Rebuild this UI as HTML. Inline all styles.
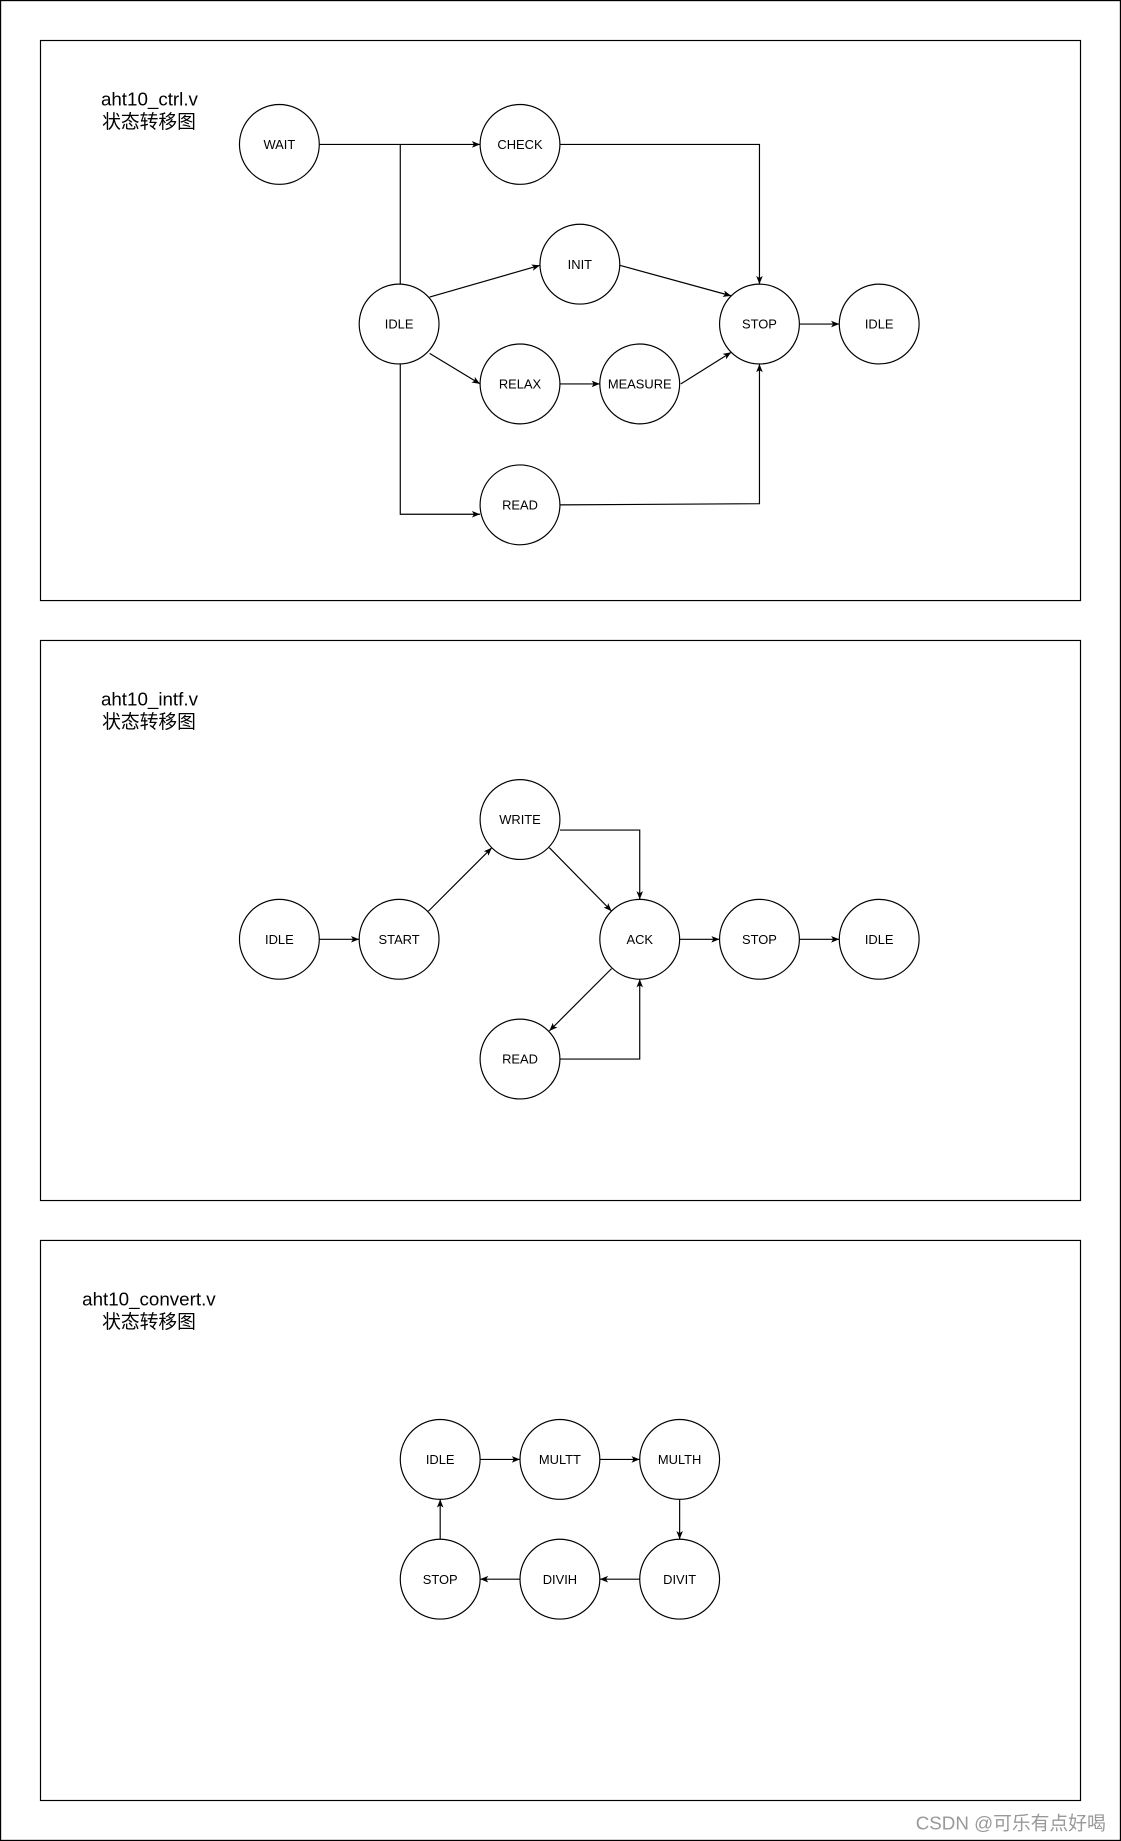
<!DOCTYPE html>
<html><head><meta charset="utf-8"><style>
html,body{margin:0;padding:0;background:#fff;}
svg{display:block;}
text{font-family:"Liberation Sans","Noto Sans CJK SC",sans-serif;}
</style></head><body>
<svg width="1121" height="1841" viewBox="0 0 955 1568" preserveAspectRatio="none" xmlns="http://www.w3.org/2000/svg">
<defs><marker id="a" viewBox="0 0 10 10" refX="10" refY="5" markerWidth="7" markerHeight="7" orient="auto"><path d="M0,1 L10,5 L0,9 L2.5,5 z" fill="#000"/></marker></defs>
<rect x="0.5" y="0.5" width="954" height="1567" fill="#fff" stroke="#000"/>
<g fill="none" stroke="#000" stroke-width="1">
<rect x="34.5" y="34.5" width="886" height="477"/>
<rect x="34.5" y="545.5" width="886" height="477"/>
<rect x="34.5" y="1056.5" width="886" height="477"/>
</g>
<g font-size="16" fill="#000">
<text x="86" y="90">aht10_ctrl.v</text><text x="87" y="109">状态转移图</text>
<text x="86" y="601">aht10_intf.v</text><text x="87" y="620">状态转移图</text>
<text x="70" y="1112">aht10_convert.v</text><text x="87" y="1131">状态转移图</text>
</g>
<g fill="none" stroke="#000" stroke-width="1">
<!-- panel1 edges -->
<path d="M272,123 H409" marker-end="url(#a)"/>
<path d="M341,242 V123"/>
<path d="M477,123 H647 V242" marker-end="url(#a)"/>
<path d="M366,253 L460,226" marker-end="url(#a)"/>
<path d="M528,226 L623,252" marker-end="url(#a)"/>
<path d="M366,301 L409,327" marker-end="url(#a)"/>
<path d="M477,327 H511" marker-end="url(#a)"/>
<path d="M580,327 L623,300" marker-end="url(#a)"/>
<path d="M681,276 H715" marker-end="url(#a)"/>
<path d="M341,310 V438 H409" marker-end="url(#a)"/>
<path d="M477,430 L647,429 V310" marker-end="url(#a)"/>
<!-- panel2 -->
<path d="M272,800 H306" marker-end="url(#a)"/>
<path d="M365,776 L419,722" marker-end="url(#a)"/>
<path d="M468,722 L521,776" marker-end="url(#a)"/>
<path d="M477,707 H545 V766" marker-end="url(#a)"/>
<path d="M579,800 H613" marker-end="url(#a)"/>
<path d="M681,800 H715" marker-end="url(#a)"/>
<path d="M521,825 L468,878" marker-end="url(#a)"/>
<path d="M477,902 H545 V834" marker-end="url(#a)"/>
<!-- panel3 -->
<path d="M409,1243 H443" marker-end="url(#a)"/>
<path d="M511,1243 H545" marker-end="url(#a)"/>
<path d="M579,1277 V1311" marker-end="url(#a)"/>
<path d="M545,1345 H511" marker-end="url(#a)"/>
<path d="M443,1345 H409" marker-end="url(#a)"/>
<path d="M375,1311 V1277" marker-end="url(#a)"/>
</g>
<g fill="#fff" stroke="#000" stroke-width="1">
<circle cx="238" cy="123" r="34"/><circle cx="443" cy="123" r="34"/><circle cx="494" cy="225" r="34"/>
<circle cx="340" cy="276" r="34"/><circle cx="647" cy="276" r="34"/><circle cx="749" cy="276" r="34"/>
<circle cx="443" cy="327" r="34"/><circle cx="545" cy="327" r="34"/><circle cx="443" cy="430" r="34"/>
<circle cx="238" cy="800" r="34"/><circle cx="340" cy="800" r="34"/><circle cx="443" cy="698" r="34"/>
<circle cx="545" cy="800" r="34"/><circle cx="647" cy="800" r="34"/><circle cx="749" cy="800" r="34"/>
<circle cx="443" cy="902" r="34"/>
<circle cx="375" cy="1243" r="34"/><circle cx="477" cy="1243" r="34"/><circle cx="579" cy="1243" r="34"/>
<circle cx="579" cy="1345" r="34"/><circle cx="477" cy="1345" r="34"/><circle cx="375" cy="1345" r="34"/>
</g>
<g font-size="11" fill="#000" text-anchor="middle">
<text x="238" y="127">WAIT</text><text x="443" y="127">CHECK</text><text x="494" y="229">INIT</text>
<text x="340" y="280">IDLE</text><text x="647" y="280">STOP</text><text x="749" y="280">IDLE</text>
<text x="443" y="331">RELAX</text><text x="545" y="331">MEASURE</text><text x="443" y="434">READ</text>
<text x="238" y="804">IDLE</text><text x="340" y="804">START</text><text x="443" y="702">WRITE</text>
<text x="545" y="804">ACK</text><text x="647" y="804">STOP</text><text x="749" y="804">IDLE</text>
<text x="443" y="906">READ</text>
<text x="375" y="1247">IDLE</text><text x="477" y="1247">MULTT</text><text x="579" y="1247">MULTH</text>
<text x="579" y="1349">DIVIT</text><text x="477" y="1349">DIVIH</text><text x="375" y="1349">STOP</text>
</g>
<text x="942" y="1558" font-size="16" fill="#999" text-anchor="end">CSDN @可乐有点好喝</text>
</svg>
</body></html>
